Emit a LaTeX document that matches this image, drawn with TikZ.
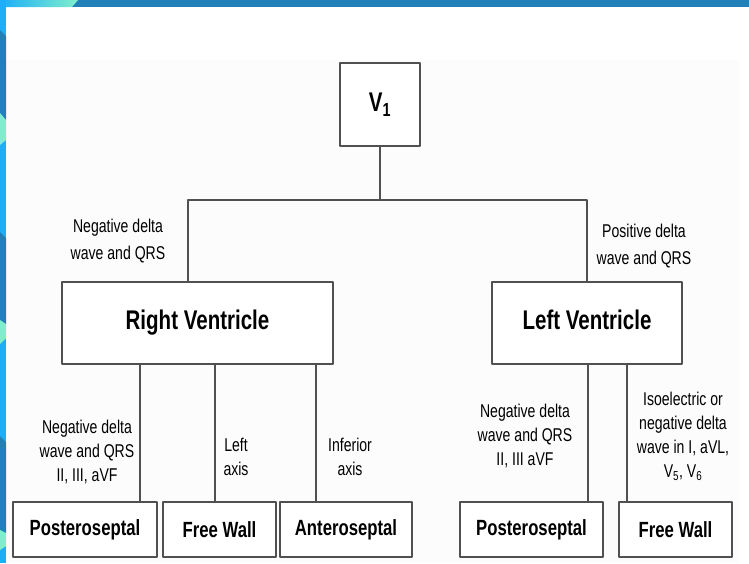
\documentclass[tikz,border=0pt]{standalone}
\usepackage{fontspec}
\setmainfont{Liberation Sans}
\newfontfamily\condfont[FakeStretch=0.76]{Liberation Sans}
\usetikzlibrary{positioning,calc}
\definecolor{darkblue}{RGB}{33,128,184}
\definecolor{lightblue}{RGB}{28,174,248}
\definecolor{mint}{RGB}{128,238,204}
\definecolor{pagegray}{RGB}{252,252,252}
\definecolor{linegray}{RGB}{80,80,80}

\begin{document}
\begin{tikzpicture}[x=1pt,y=-1pt, line join=round,
  box/.style={draw=linegray, line width=1.5pt, fill=white, inner sep=0pt, outer sep=0pt, font=\condfont\bfseries},
  bigbox/.style={box, font=\condfont\bfseries\fontsize{27}{30}\selectfont},
  smallbox/.style={box, minimum height=55, font=\condfont\bfseries\fontsize{22}{24}\selectfont},
  note/.style={align=center, inner sep=0pt, text=black, font=\condfont\fontsize{18.5}{27}\selectfont},
  lownote/.style={note, font=\condfont\fontsize{18.5}{24}\selectfont},
  wire/.style={draw=linegray, line width=1.5pt}]
\useasboundingbox (0,0) rectangle (749,563);
\fill[white] (0,0) rectangle (749,563);
\fill[pagegray] (6,60) rectangle (738,563);
\fill[darkblue] (0,0) rectangle (749,7);
\shade[left color=lightblue, right color=mint] (0,0) -- (78,0) -- (72,7) -- (0,7) -- cycle;
\fill[lightblue] (0,0) rectangle (6,563);
\fill[darkblue] (0,30) -- (6,36) -- (6,120) -- (0,113) -- cycle;
\fill[darkblue] (0,232) -- (6,238) -- (6,324) -- (0,320) -- cycle;
\fill[darkblue] (0,436) -- (6,442) -- (6,533) -- (0,530) -- cycle;
\fill[mint] (0,113) -- (6,120) -- (6,140) -- (0,145) -- cycle;
\fill[mint] (0,320) -- (6,324) -- (6,338) -- (0,344) -- cycle;
\fill[mint] (0,530) -- (6,533) -- (6,546) -- (0,550) -- cycle;

\node[bigbox, minimum width=80, minimum height=83] (v1) at (380,104.5) {V\textsubscript{1}};
\node[bigbox, minimum width=271, minimum height=82] (rv) at (197.5,323) {Right Ventricle};
\node[bigbox, minimum width=190, minimum height=82, text depth=6pt] (lv) at (587,323) {Left Ventricle};
\node[smallbox, minimum width=144] (rps) at (85,529.5) {Posteroseptal};
\node[smallbox, minimum width=113] (rfw) at (219.5,529.5) {Free Wall};
\node[smallbox, minimum width=132] (ras) at (346,529.5) {Anteroseptal};
\node[smallbox, minimum width=143] (lps) at (531.5,529.5) {Posteroseptal};
\node[smallbox, minimum width=113] (lfw) at (675.5,529.5) {Free Wall};

\coordinate (bl) at (188,200);
\coordinate (br) at (587,200);
\coordinate (r1) at (140,430);
\coordinate (r2) at (215,430);
\coordinate (r3) at (316,430);
\coordinate (l1) at (588,430);
\coordinate (l2) at (627,430);

\draw[wire] (v1.south) -- (v1.south |- bl);
\draw[wire] (bl |- rv.north) -- (bl) -- (br) -- (lv.north);
\draw[wire] (r1 |- rv.south) -- (r1 |- rps.north);
\draw[wire] (r2 |- rv.south) -- (r2 |- rfw.north);
\draw[wire] (r3 |- rv.south) -- (r3 |- ras.north);
\draw[wire] (l1 |- lv.south) -- (l1 |- lps.north);
\draw[wire] (l2 |- lv.south) -- (l2 |- lfw.north);

\node[note] (negtop) at (118,241) {Negative delta\\wave and QRS};
\node[note] (postop) at (644,246) {Positive delta\\wave and QRS};
\node[lownote] (rpsnote) at (87,452) {Negative delta\\wave and QRS\\II, III, aVF};
\node[lownote] (rfwnote) at (236,457) {Left\\axis};
\node[lownote] (rasnote) at (350,457) {Inferior\\axis};
\node[lownote] (lpsnote) at (525,436) {Negative delta\\wave and QRS\\II, III aVF};
\node[lownote] (lfwnote) at (683,436) {Isoelectric or\\negative delta\\wave in I, aVL,\\V\textsubscript{5}, V\textsubscript{6}};
\end{tikzpicture}
\end{document}
